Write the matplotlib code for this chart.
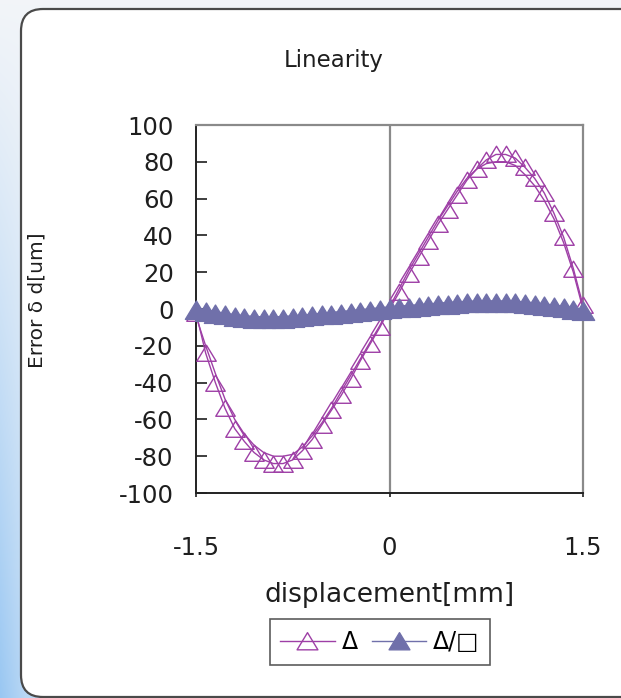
import matplotlib
matplotlib.use("Agg")
import matplotlib.pyplot as plt
import numpy as np
from matplotlib.patches import FancyBboxPatch
from matplotlib.lines import Line2D
from matplotlib.path import Path

plt.rcParams["axes.unicode_minus"] = False

# displacement grid [mm]
desplazamiento = [-1.5, -1.425, -1.35, -1.275, -1.2, -1.125, -1.05, -0.975, -0.9, -0.825,
                  -0.75, -0.675, -0.6, -0.525, -0.45, -0.375, -0.3, -0.225, -0.15, -0.075,
                  0.0, 0.075, 0.15, 0.225, 0.3, 0.375, 0.45, 0.525, 0.6, 0.675,
                  0.75, 0.825, 0.9, 0.975, 1.05, 1.125, 1.2, 1.275, 1.35, 1.425, 1.5]

# error, forward pass (triangles)
delta_ida = [-2, -24, -40, -54, -65, -72, -78, -82, -84, -84,
             -82, -77, -71, -63, -55, -47, -38, -28, -19, -10,
             0, 9, 19, 28, 37, 46, 54, 62, 70, 76,
             81, 84, 84, 82, 77, 71, 63, 52, 39, 22, 2]

# error, return pass (line only)
delta_vuelta = [-4, -20, -35, -49, -60, -68, -74, -78, -80, -80,
                -79, -75, -69, -62, -54, -45, -36, -27, -18, -9,
                1, 11, 21, 30, 39, 48, 56, 64, 71, 76,
                79, 80, 80, 78, 73, 67, 59, 49, 36, 20, 0]

# corrected error
delta_corr = [-0.5, -1.6, -2.6, -3.5, -4.2, -4.8, -5.2, -5.4, -5.4, -5.2,
              -4.9, -4.5, -4.0, -3.5, -3.0, -2.5, -2.0, -1.5, -1.0, -0.5,
              0.0, 0.4, 0.8, 1.2, 1.6, 2.0, 2.4, 2.7, 3.0, 3.2,
              3.3, 3.3, 3.2, 3.0, 2.7, 2.2, 1.6, 1.0, 0.3, -0.5, -1.2]

etiquetas = ["\u0394", "\u0394/\u25a1"]
ticks_x = [-1.5, 0, 1.5]
ticks_y = list(range(-100, 101, 20))

MAGENTA = "#9E3FA6"
AZUL = "#7070AA"
TEXTO = "#1e1e1e"

# triangulo ancho tipo Excel
triangulo = Path([(-1, -0.8), (1, -0.8), (0, 0.85), (-1, -0.8)],
                 [Path.MOVETO, Path.LINETO, Path.LINETO, Path.CLOSEPOLY])

W, H = 621, 698
fig = plt.figure(figsize=(W / 100, H / 100), dpi=100)

# fondo: degradado azul + panel redondeado
fondo = fig.add_axes([0, 0, 1, 1], zorder=0)
fondo.set_xlim(0, W)
fondo.set_ylim(H, 0)
fondo.axis("off")
yy, xx = np.mgrid[0:H, 0:W]
t = np.clip((yy / H) ** 1.1 * (1 - 0.35 * np.clip(xx / 25, 0, 1)), 0, 1)
c0 = np.array([0.95, 0.96, 0.975])
c1 = np.array([0.60, 0.78, 0.95])
img = c0 * (1 - t[..., None]) + c1 * t[..., None]
fondo.imshow(img, extent=(0, W, H, 0), aspect="auto", interpolation="bilinear")
panel = FancyBboxPatch((21, 9), 640, 688, boxstyle="round,pad=0,rounding_size=22",
                       facecolor="white", edgecolor="#4a4a4a", linewidth=1.6)
fondo.add_patch(panel)

ax = fig.add_axes([196 / W, 1 - 493 / H, 387 / W, 368 / H], zorder=1)
ax.set_facecolor("none")

ax.axvline(0, color="#8a8a8a", lw=1.6, zorder=1)
ax.plot(desplazamiento, delta_vuelta, color=MAGENTA, lw=1.0, zorder=2)
ax.plot(desplazamiento, delta_ida, color=MAGENTA, lw=1.0, marker=triangulo, markersize=14,
        markerfacecolor="none", markeredgecolor=MAGENTA, markeredgewidth=1.0,
        zorder=3, clip_on=False)
ax.plot(desplazamiento, delta_corr, color=AZUL, lw=4, marker=triangulo, markersize=16,
        markerfacecolor=AZUL, markeredgecolor=AZUL, zorder=4, clip_on=False)

ax.set_xlim(-1.5, 1.5)
ax.set_ylim(-100, 100)
ax.set_xticks(ticks_x)
ax.set_xticklabels(["-1.5", "0", "1.5"])
ax.set_yticks(ticks_y)

for lado in ["top", "right"]:
    ax.spines[lado].set_color("#8a8a8a")
    ax.spines[lado].set_linewidth(1.6)
for lado in ["left", "bottom"]:
    ax.spines[lado].set_color("#222222")
    ax.spines[lado].set_linewidth(1.4)

ax.tick_params(axis="y", direction="in", length=8, width=1.2, pad=16,
               labelsize=17.5, colors=TEXTO)
ax.tick_params(axis="x", direction="out", length=3, width=1.2, pad=28,
               labelsize=17.5, colors=TEXTO)

ax.set_xlabel("displacement[mm]", fontsize=19, color=TEXTO, labelpad=16)
fig.text(37 / W, 1 - 300 / H, "Error \u03b4 d[um]", rotation=90, fontsize=14.5,
         ha="center", va="center", color=TEXTO)
fig.text(334 / W, 1 - 60 / H, "Linearity", fontsize=16.5, ha="center", va="center",
         color=TEXTO)

manijas = [
    Line2D([], [], color=MAGENTA, lw=1.0, marker=triangulo, markersize=15,
           markerfacecolor="none", markeredgecolor=MAGENTA),
    Line2D([], [], color=AZUL, lw=1.0, marker=triangulo, markersize=15,
           markerfacecolor=AZUL, markeredgecolor=AZUL),
]
leg = fig.legend(manijas, etiquetas, loc="center", bbox_to_anchor=(380 / W, 1 - 642 / H),
                 ncol=2, fontsize=17, frameon=True, fancybox=False, edgecolor="#333333",
                 handlelength=2.3, handletextpad=0.3, columnspacing=0.6,
                 borderpad=0.45, borderaxespad=0)
leg.get_frame().set_linewidth(1.2)

fig.savefig("out.png", dpi=100)
